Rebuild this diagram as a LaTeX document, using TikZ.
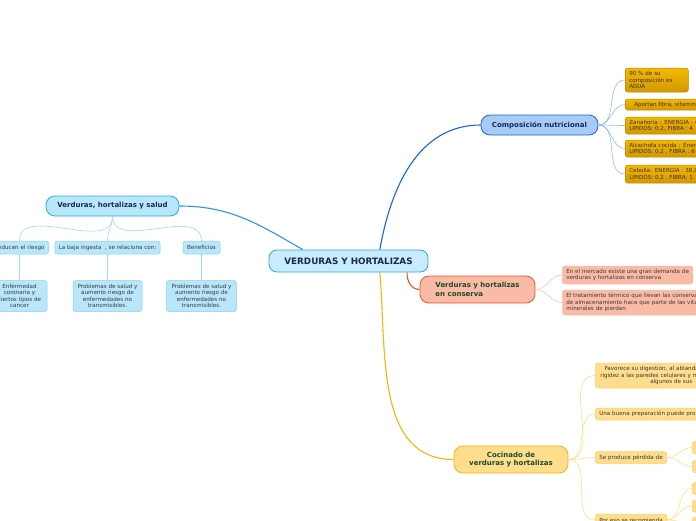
\documentclass[tikz,border=0pt]{standalone}
\usepackage{fontspec}
\setmainfont{DejaVu Sans}
\usepackage{xcolor}
\usetikzlibrary{positioning}

\definecolor{mainfill}{HTML}{C8ECFB}
\definecolor{mainline}{HTML}{2FA6E0}
\definecolor{nutrifill}{HTML}{A6CBF7}
\definecolor{nutriline}{HTML}{1C64D4}
\definecolor{goldtop}{HTML}{F5B800}
\definecolor{goldbot}{HTML}{D39800}
\definecolor{goldline}{HTML}{B8860B}
\definecolor{saludfill}{HTML}{B8E6FA}
\definecolor{saludline}{HTML}{2FA8E4}
\definecolor{conservafill}{HTML}{F9BBA6}
\definecolor{conservaline}{HTML}{E8552C}
\definecolor{cocinafill}{HTML}{FEDD8D}
\definecolor{cocinaline}{HTML}{F5B50A}
\definecolor{titletext}{HTML}{152A4F}
\definecolor{greentext}{HTML}{1D4A2A}
\definecolor{leaftext}{HTML}{3A3A3A}

\begin{document}
\begin{tikzpicture}[
    x=1pt, y=-1pt,
    central/.style={rectangle, rounded corners=8pt, draw=mainline, fill=mainfill, line width=0.8pt, minimum width=159pt, minimum height=22pt, inner sep=0pt, font=\fontsize{8.8}{10}\selectfont\bfseries, text=titletext},
    topic/.style={rectangle, rounded corners=9pt, line width=0.8pt, inner sep=0pt, font=\fontsize{7}{8.6}\selectfont\bfseries},
    leaf/.style={rectangle, rounded corners=2.5pt, inner ysep=1.5pt, inner xsep=4pt, line width=0.5pt, font=\fontsize{5.6}{6.6}\selectfont, text=leaftext},
    goldleaf/.style={leaf, draw=goldline, top color=goldtop, bottom color=goldbot, anchor=west, align=left, text=black!80},
    blueleaf/.style={leaf, draw=saludline!55, fill=saludfill, align=center, minimum height=13pt},
    salmonleaf/.style={leaf, draw=conservaline!35, fill=conservafill, anchor=west, align=left},
    yellowleaf/.style={leaf, draw=cocinaline!60, fill=cocinafill, anchor=west, minimum height=12pt},
    link/.style={line width=1.1pt},
    twig/.style={line width=0.6pt}
]
\useasboundingbox (0,0) rectangle (696,520);
\clip (0,0) rectangle (696,520);

% Central topic
\node[central] (main) at (348.5,261) {VERDURAS Y HORTALIZAS};

% Composicion nutricional
\node[topic, draw=nutriline, fill=nutrifill, text=titletext, minimum width=117pt, minimum height=20pt] (nutri) at (539.5,125) {Composición nutricional};
\node[goldleaf, text width=55pt, minimum height=24pt] (agua) at (625,80) {90 \% de su\\composición es\\AGUA};
\node[goldleaf, text width=110pt, minimum height=11pt] (fibra) at (625,104.5) {\hspace*{5pt}Aportan fibra, vitaminas};
\node[goldleaf, text width=110pt, minimum height=17pt] (zanahoria) at (625,125.5) {Zanahoria : ENERGIA : 4\\LIPIDOS: 0,2, FIBRA : 4};
\node[goldleaf, text width=110pt, minimum height=17pt] (alcachofa) at (625,148.5) {Alcachofa cocida : Energ\\LIPIDOS: 0,2 , FIBRA : 6};
\node[goldleaf, text width=110pt, minimum height=18pt] (cebolla) at (625,174) {Cebolla: ENERGIA : 38,0\\LIPIDOS: 0,2 , FIBRA: 1};

% Verduras, hortalizas y salud
\node[topic, draw=saludline, fill=saludfill, text=titletext, minimum width=133pt, minimum height=20pt] (salud) at (112.5,206) {Verduras, hortalizas y salud};
\node[blueleaf, minimum width=55pt] (reduce) at (19.5,247.5) {Reducen el riesgo};
\node[blueleaf, minimum width=105pt] (ingesta) at (107.5,247.5) {La baja ingesta \ , se relaciona con:};
\node[blueleaf, minimum width=37pt] (benef) at (201.5,247.5) {Beneficios};
\node[blueleaf, minimum width=55pt, minimum height=31pt, below=26pt of reduce] (coronaria) {Enfermedad\\coronaria y\\ciertos tipos de\\cancer};
\node[blueleaf, minimum width=69pt, minimum height=31pt, below=26pt of ingesta] (problemas) {Problemas de salud y\\aumento riesgo de\\enfermedades no\\transmisibles.};
\node[blueleaf, minimum width=70pt, minimum height=31pt, below=26pt of benef] (problemasb) {Problemas de salud y\\aumento riesgo de\\enfermedades no\\transmisibles.};

% Verduras y hortalizas en conserva
\node[topic, draw=conservaline, fill=conservafill, text=greentext, align=left, minimum width=115pt, minimum height=27pt] (conserva) at (477.5,289.5) {Verduras y hortalizas\\en conserva};
\node[salmonleaf, minimum height=18pt] (mercado) at (562,275) {En el mercado existe una gran demanda de\\verduras y hortalizas en conserva};
\node[salmonleaf, text width=150pt, minimum height=25pt] (termico) at (562,302.5) {El tratamiento térmico que llevan las conservas\\de almacenamiento hace que parte de las vitam\\minerales de pierdan};

% Cocinado de verduras y hortalizas
\node[topic, draw=cocinaline, fill=cocinafill, text=greentext, align=center, minimum width=114pt, minimum height=27pt] (cocina) at (511,459.5) {Cocinado de\\verduras y hortalizas};
\node[yellowleaf, align=left, text width=115pt, minimum height=25pt, inner xsep=5pt] (digestion) at (595,375.5) {\hspace*{4.5pt}Favorece su digestión, al ablanda\\rigidez a las paredes celulares y m\\\hspace*{50pt}algunos de sus};
\node[yellowleaf, text width=115pt] (prepara) at (595,414) {Una buena preparación puede prop};
\node[yellowleaf, minimum width=71pt] (perdida) at (595,457.5) {Se produce pérdida de};
\node[yellowleaf, minimum width=71pt] (recomienda) at (595,520) {Por eso se recomienda};
\node[yellowleaf, minimum width=20pt] (perdidaa) at (692,447.5) {};
\node[yellowleaf, minimum width=20pt] (perdidab) at (692,466.5) {};
\node[yellowleaf, minimum width=20pt] (recoma) at (692,488.5) {};
\node[yellowleaf, minimum width=20pt] (recomb) at (692,506) {};
\node[yellowleaf, minimum width=20pt] (recomc) at (692,523) {};

% Main branches
\draw[link, nutriline] (main.20) to[out=80, in=180] (nutri.west);
\draw[link, saludline!90!blue] (main.166) to[out=150, in=0] (salud.east);
\draw[link, conservaline] (main.-11) to[out=-95, in=180] (conserva.west);
\draw[link, cocinaline] (main.-20) to[out=-85, in=180] (cocina.west);

% Leaf connectors
\foreach \n in {agua, fibra, zanahoria, alcachofa, cebolla}
  \draw[twig, nutriline!45] (nutri.east) to[out=0, in=180] (\n.west);
\foreach \n in {reduce, ingesta, benef}
  \draw[twig, saludline!45] (salud.south) to[out=-90, in=90] (\n.north);
\draw[twig, saludline!45] (reduce) -- (coronaria);
\draw[twig, saludline!45] (ingesta) -- (problemas);
\draw[twig, saludline!45] (benef) -- (problemasb);
\foreach \n in {mercado, termico}
  \draw[twig, conservaline!35] (conserva.east) to[out=0, in=180] (\n.west);
\foreach \n in {digestion, prepara, perdida, recomienda}
  \draw[twig, cocinaline!45] (cocina.east) to[out=0, in=180] (\n.west);
\foreach \n in {perdidaa, perdidab}
  \draw[twig, cocinaline!45] (perdida.east) to[out=0, in=180] (\n.west);
\foreach \n in {recoma, recomb, recomc}
  \draw[twig, cocinaline!45] (recomienda.east) to[out=0, in=180] (\n.west);

\end{tikzpicture}
\end{document}
